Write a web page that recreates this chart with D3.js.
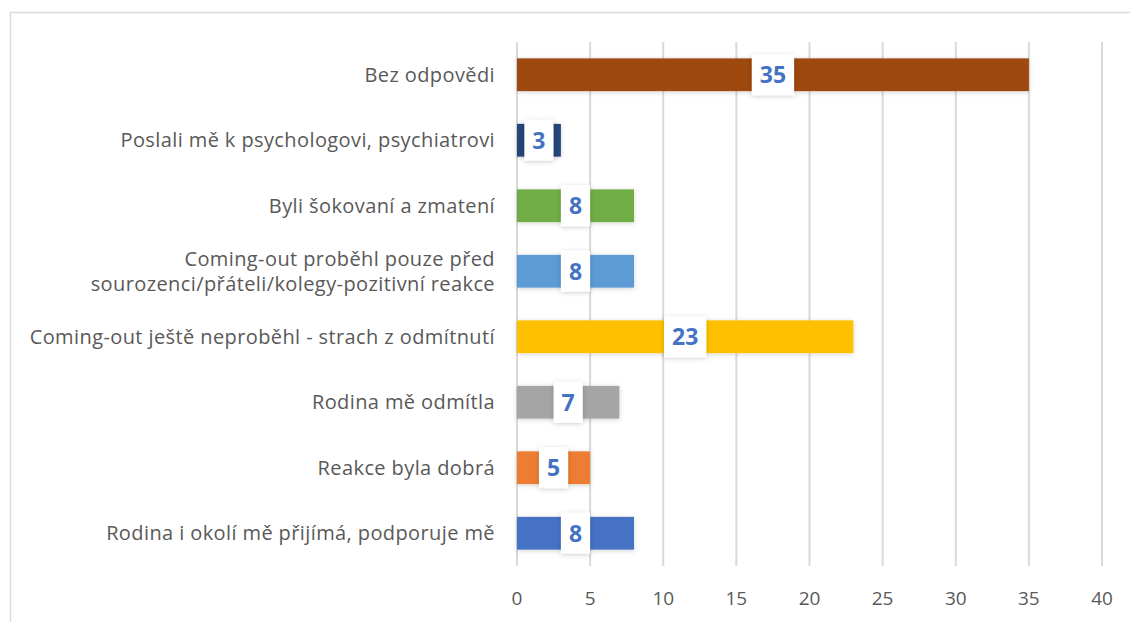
<!DOCTYPE html>
<html>
<head>
<meta charset="utf-8">
<script src="https://cdn.jsdelivr.net/npm/d3@7"></script>
<style>
  body { margin: 0; background: #fff; }
  svg text { font-family: "Open Sans", "Noto Sans", sans-serif; }
</style>
</head>
<body>
<svg id="chart" width="1130" height="622"></svg>
<script>
// categories, top to bottom
var categories = [
    "Bez odpovědi",
    "Poslali mě k psychologovi, psychiatrovi",
    "Byli šokovaní a zmatení",
    "Coming-out proběhl pouze před\nsourozenci/přáteli/kolegy-pozitivní reakce",
    "Coming-out ještě neproběhl - strach z odmítnutí",
    "Rodina mě odmítla",
    "Reakce byla dobrá",
    "Rodina i okolí mě přijímá, podporuje mě"
];
var values = [35, 3, 8, 8, 23, 7, 5, 8];
var colors = ["#9E480E", "#264478", "#70AD47", "#5B9BD5", "#FFC000", "#A5A5A5", "#ED7D31", "#4472C4"];
var ticks = [0, 5, 10, 15, 20, 25, 30, 35, 40];

var svg = d3.select("#chart");

// chart border (only top and left visible in the crop)
svg.append("path")
    .attr("d", "M10.5,622 V12.5 H1130")
    .attr("fill", "none")
    .attr("stroke", "#d9d9d9")
    .attr("stroke-width", 1.5);

var defs = svg.append("defs");
var sh = defs.append("filter").attr("id", "shadow")
    .attr("x", "-20%").attr("y", "-30%").attr("width", "140%").attr("height", "160%");
sh.append("feDropShadow").attr("dx", 0).attr("dy", 1).attr("stdDeviation", 2.5)
    .attr("flood-color", "#000").attr("flood-opacity", 0.18);

var plotLeft = 517, plotRight = 1102, plotTop = 42, plotBottom = 566;

var x = d3.scaleLinear().domain([0, 40]).range([plotLeft, plotRight]);
var y = d3.scaleBand().domain(categories).range([plotTop, plotBottom]).paddingInner(0.5).paddingOuter(0.25);

// gridlines
svg.append("g").selectAll("line")
    .data(ticks).enter().append("line")
    .attr("x1", function(d) { return x(d); })
    .attr("x2", function(d) { return x(d); })
    .attr("y1", plotTop)
    .attr("y2", plotBottom)
    .attr("stroke", "#d9d9d9")
    .attr("stroke-width", 2);

// tick labels
svg.append("g").selectAll("text")
    .data(ticks).enter().append("text")
    .attr("x", function(d) { return x(d); })
    .attr("y", 605)
    .attr("text-anchor", "middle")
    .attr("fill", "#595959")
    .style("font-size", "19px")
    .text(function(d) { return d; });

// bars
var bars = svg.append("g").selectAll("g")
    .data(values).enter().append("g");

bars.append("rect")
    .attr("x", x(0))
    .attr("y", function(d, i) { return y(categories[i]); })
    .attr("width", function(d) { return x(d) - x(0); })
    .attr("height", y.bandwidth())
    .attr("fill", function(d, i) { return colors[i]; })
    .attr("filter", "url(#shadow)");

// value labels with white boxes
bars.each(function(d, i) {
    var g = d3.select(this);
    var cx = (x(0) + x(d)) / 2;
    var cy = y(categories[i]) + y.bandwidth() / 2;
    var box = g.append("rect").attr("fill", "#fff").attr("filter", "url(#shadow)");
    var t = g.append("text")
        .attr("x", cx)
        .attr("y", cy)
        .attr("dy", "0.36em")
        .attr("text-anchor", "middle")
        .attr("fill", "#4472C4")
        .style("font-size", "23px")
        .style("font-weight", "bold")
        .text(d);
    var w = t.node().getComputedTextLength() + 16;
    box.attr("x", cx - w / 2).attr("y", cy - 20.5).attr("width", w).attr("height", 41);
});

// category labels
svg.append("g").selectAll("text")
    .data(categories).enter().append("text")
    .attr("x", 495)
    .attr("y", function(d) { return y(d) + y.bandwidth() / 2; })
    .attr("text-anchor", "end")
    .attr("fill", "#595959")
    .style("font-size", "20px")
    .style("letter-spacing", "0.4px")
    .each(function(d) {
        var lines = d.split("\n");
        var t = d3.select(this);
        lines.forEach(function(l, k) {
            t.append("tspan")
                .attr("x", 495)
                .attr("dy", k === 0 ? (0.35 - (lines.length - 1) * 0.62) + "em" : "1.24em")
                .text(l);
        });
    });
</script>
</body>
</html>
